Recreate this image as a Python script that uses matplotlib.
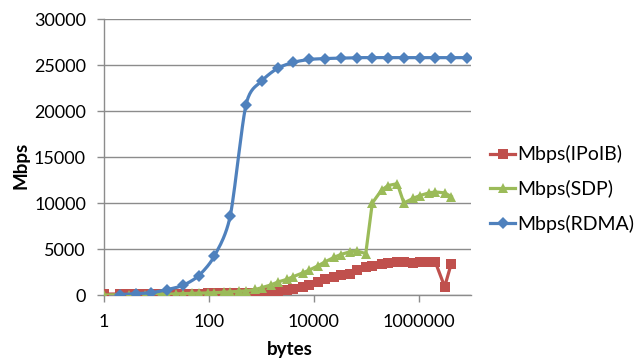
import numpy as np
import matplotlib
matplotlib.use("Agg")
import matplotlib.pyplot as plt
from matplotlib.lines import Line2D

# ---- data ----
sizes_ib = [1, 2, 3, 4, 6, 8, 12, 16, 24, 32, 48, 64, 96, 128, 192, 256, 384, 512,
            768, 1024, 1536, 2048, 3072, 4096, 6144, 8192, 12288, 16384, 24576,
            32768, 49152, 65536, 98304, 131072, 196608, 262144, 393216, 524288,
            786432, 1048576, 1572864, 2097152, 3145728, 4194304]
mbps_ipoib = [100, 110, 120, 120, 130, 130, 140, 140, 150, 150, 160, 160, 170, 170,
              180, 190, 200, 210, 230, 260, 320, 400, 550, 700, 900, 1050, 1400,
              1700, 1950, 2150, 2300, 2700, 3000, 3200, 3400, 3500, 3550, 3550,
              3500, 3550, 3600, 3550, 900, 3400]
mbps_sdp = [0, 20, 30, 40, 50, 60, 80, 100, 120, 150, 180, 200, 230, 260, 300, 340,
            400, 450, 600, 800, 1100, 1400, 1700, 2000, 2400, 2700, 3200, 3600,
            4100, 4400, 4700, 4800, 4500, 10000, 11400, 11900, 12100, 10000,
            10500, 10800, 11100, 11200, 11100, 10700]
sizes_rdma = [2, 4, 8, 16, 32, 64, 128, 256, 512, 1024, 2048, 4096, 8192, 16384,
              32768, 65536, 131072, 262144, 524288, 1048576, 2097152, 4194304,
              8388608]
mbps_rdma = [50, 150, 250, 580, 1050, 2100, 4250, 8600, 20700, 23260, 24640, 25290,
             25600, 25700, 25750, 25800, 25800, 25800, 25800, 25800, 25800, 25800,
             25800]

labels = ["Mbps(IPoIB)", "Mbps(SDP)", "Mbps(RDMA)"]
xtick_vals = [1, 100, 10000, 1000000]
xtick_labels = ["1", "100", "10000", "1000000"]
ytick_vals = [0, 5000, 10000, 15000, 20000, 25000, 30000]

c_red = "#C0504D"
c_green = "#9BBB59"
c_blue = "#4F81BD"

plt.rcParams['font.family'] = ['Lato', 'DejaVu Sans']

fig = plt.figure(figsize=(6.43, 3.58), dpi=100)
ax = fig.add_axes([104/643, 1-295/358, 367/643, 276/358])


def smooth(xs, ys, n=20):
    """Catmull-Rom spline in log-x space (Excel-like smoothed line)."""
    lx = np.log10(np.asarray(xs, float))
    yy = np.asarray(ys, float)
    sx, sy = 7.0, 30000.0
    px, py = lx / sx, yy / sy
    P = np.column_stack([px, py])
    P = np.vstack([P[0] - (P[1] - P[0]), P, P[-1] + (P[-1] - P[-2])])
    out = []
    t = np.linspace(0, 1, n, endpoint=False)
    for i in range(1, len(P) - 2):
        p0, p1, p2, p3 = P[i - 1], P[i], P[i + 1], P[i + 2]
        m1 = (p2 - p0) / 2.0 * 0.8
        m2 = (p3 - p1) / 2.0 * 0.8
        h00 = 2*t**3 - 3*t**2 + 1
        h10 = t**3 - 2*t**2 + t
        h01 = -2*t**3 + 3*t**2
        h11 = t**3 - t**2
        seg = (h00[:, None]*p1 + h10[:, None]*m1 + h01[:, None]*p2 + h11[:, None]*m2)
        out.append(seg)
    out.append(P[-2][None, :])
    out = np.vstack(out)
    return 10 ** (out[:, 0] * sx), out[:, 1] * sy


LW = 2.3
ax.plot(sizes_ib, mbps_ipoib, color=c_red, lw=LW, marker='s', ms=6.5,
        markeredgewidth=0, zorder=3)
ax.plot(sizes_ib, mbps_sdp, color=c_green, lw=LW, marker='^', ms=7.5,
        markeredgewidth=0, zorder=4)
sx_, sy_ = smooth(sizes_rdma, mbps_rdma)
ax.plot(sx_, sy_, color=c_blue, lw=LW, zorder=5)
ax.plot(sizes_rdma, mbps_rdma, color=c_blue, lw=0, marker='D', ms=6.5,
        markeredgewidth=0, zorder=5)

ax.set_xscale('log')
ax.set_xlim(1, 1e7)
ax.set_ylim(0, 30000)
ax.set_xticks(xtick_vals)
ax.set_xticklabels(xtick_labels)
ax.xaxis.set_minor_locator(matplotlib.ticker.NullLocator())
ax.set_yticks(ytick_vals)
ax.set_yticklabels([str(v) for v in ytick_vals])
ax.yaxis.grid(True, color='#8C8C8C', lw=1.0)
ax.set_axisbelow(True)
for s in ['top', 'right']:
    ax.spines[s].set_visible(False)
for s in ['left', 'bottom']:
    ax.spines[s].set_color('#8C8C8C')
    ax.spines[s].set_linewidth(1.0)
ax.tick_params(axis='both', colors='#8C8C8C', labelcolor='black', labelsize=13,
               length=5, width=1.0)
ax.tick_params(axis='y', pad=8)
ax.tick_params(axis='x', pad=9)

fig.text(21/643, 1-165/358, "Mbps", rotation=90, ha='center', va='center',
         fontsize=13.5, fontweight='bold')
fig.text(290/643, 1-349/358, "bytes", ha='center', va='center',
         fontsize=13.5, fontweight='bold')

handles = [Line2D([], [], color=c_red, lw=LW, marker='s', ms=6.5, markeredgewidth=0),
           Line2D([], [], color=c_green, lw=LW, marker='^', ms=7.5, markeredgewidth=0),
           Line2D([], [], color=c_blue, lw=LW, marker='D', ms=6.5, markeredgewidth=0)]
fig.legend(handles, labels, loc='center left', bbox_to_anchor=(490/643, 1-189/358),
           frameon=False, fontsize=14, handlelength=1.3, handletextpad=0.1,
           labelspacing=0.85, borderaxespad=0, borderpad=0)

fig.savefig("out.png", dpi=100)
